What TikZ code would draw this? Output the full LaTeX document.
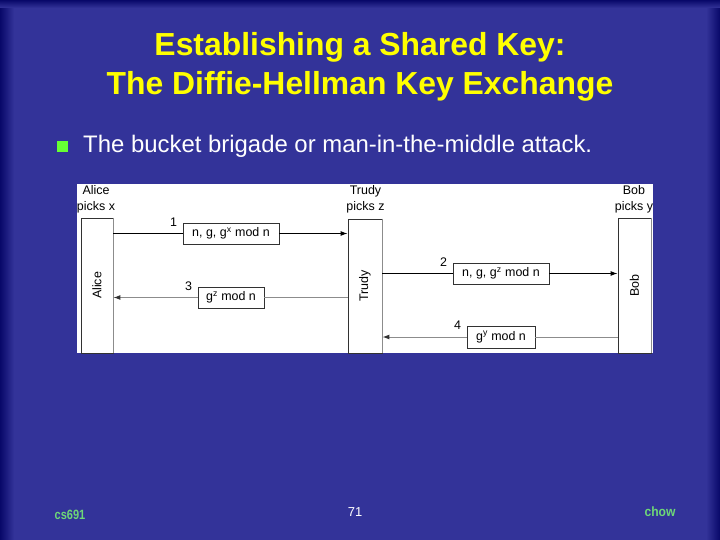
\documentclass[tikz,border=0pt]{standalone}
\usepackage{fontspec}
\setmainfont{Liberation Sans}
\usetikzlibrary{arrows.meta}
\definecolor{bgblue}{RGB}{51,51,153}
\definecolor{edgeblue}{RGB}{8,8,105}
\definecolor{titleyellow}{RGB}{255,255,0}
\definecolor{bulletgreen}{RGB}{102,255,51}
\definecolor{footgreen}{RGB}{110,215,120}
\definecolor{boxline}{RGB}{50,50,50}
\definecolor{softline}{RGB}{140,140,140}
\begin{document}
\begin{tikzpicture}[x=1bp,y=-1bp,
  title/.style={anchor=base, inner sep=0, text=titleyellow, font=\fontsize{32}{38}\selectfont\bfseries},
  bullettext/.style={anchor=base west, inner sep=0, text=white, font=\fontsize{24}{28}\selectfont},
  diag/.style={inner sep=0, font=\fontsize{12.5}{15.5}\selectfont, text=black},
  life/.style={draw=boxline, fill=white, line width=0.9bp, inner sep=0},
  msgbox/.style={draw=boxline, fill=white, line width=0.8bp, inner sep=0, minimum height=21bp, font=\fontsize{12.5}{15}\selectfont},
  num/.style={inner sep=0, font=\fontsize{12.5}{15}\selectfont},
  hardline/.style={draw=black, line width=1bp},
  softl/.style={draw=softline, line width=1bp},
  tip/.style={-{Latex[length=7bp,width=5bp]}},
  softtip/.style={-{Latex[length=7bp,width=5bp,color=black!80]}},
  foot/.style={inner sep=0, font=\fontsize{13.5}{15}\selectfont\bfseries, text=footgreen}
]
\useasboundingbox (0,0) rectangle (720,540);
% background
\fill[bgblue] (0,0) rectangle (720,540);
\shade[left color=edgeblue, right color=bgblue] (0,0) rectangle (14,540);
\shade[left color=bgblue, right color=edgeblue] (706,0) rectangle (720,540);
\shade[top color=edgeblue, bottom color=bgblue] (0,0) rectangle (720,8);

% title
\node[title] (t1) at (360,56) {Establishing a Shared Key:};
\node[title] (t2) at (360,95) {The Diffie-Hellman Key Exchange};

% bullet
\node[fill=bulletgreen, minimum size=11bp, inner sep=0] (bul) at (62.5,146.5) {};
\node[bullettext] (b1) at (83,152.5) {The bucket brigade or man-in-the-middle attack.};

% diagram panel
\fill[white] (77,184) rectangle (653,353);

% participants
\node[life, minimum width=32bp, minimum height=135bp] (alice) at (97,285.5) {};
\node[life, minimum width=34bp, minimum height=134bp] (trudy) at (365,286) {};
\node[life, minimum width=33bp, minimum height=135bp] (bob) at (634.5,285.5) {};
\draw[softline, line width=0.9bp] (alice.north east) -- (alice.south east);
\draw[softline, line width=0.9bp] (trudy.north east) -- (trudy.south east);
\draw[softline, line width=0.9bp] (bob.north east) -- (bob.south east);

\node[diag, rotate=90] (alicel) at (alice.center) {Alice};
\node[diag, rotate=90] (trudyl) at (trudy.center) {Trudy};
\node[diag, rotate=90] (bobl) at (bob.center) {Bob};

\node[diag, align=center] (alicep) at (96,199.5) {Alice\\picks x};
\node[diag, align=center] (trudyp) at (365.5,199.5) {Trudy\\picks z};
\node[diag, align=center] (bobp) at (634,199.5) {Bob\\picks y};

% messages
\node[msgbox, minimum width=96bp] (m1) at (231,233.5) {n, g, g\textsuperscript{x} mod n};
\node[msgbox, minimum width=66bp] (m3) at (231,297.5) {g\textsuperscript{z} mod n};
\node[msgbox, minimum width=96bp] (m2) at (501,273.5) {n, g, g\textsuperscript{z} mod n};
\node[msgbox, minimum width=68bp, minimum height=22bp] (m4) at (501,337) {g\textsuperscript{y} mod n};

\node[num] (n1) at ([xshift=-9bp]m1.north west) {1};
\node[num] (n3) at ([xshift=-9bp]m3.north west) {3};
\node[num] (n2) at ([xshift=-9bp]m2.north west) {2};
\node[num] (n4) at ([xshift=-9bp]m4.north west) {4};

% connectors
\draw[hardline] (alice.east |- m1.west) -- (m1.west);
\draw[hardline, tip] (m1.east) -- (trudy.west |- m1.east);
\draw[softl] (trudy.west |- m3.east) -- (m3.east);
\draw[softl, softtip] (m3.west) -- (alice.east |- m3.west);
\draw[hardline] (trudy.east |- m2.west) -- (m2.west);
\draw[hardline, tip] (m2.east) -- (bob.west |- m2.east);
\draw[softl] (bob.west |- m4.east) -- (m4.east);
\draw[softl, softtip] (m4.west) -- (trudy.east |- m4.west);

% footer
\node[foot] (f1) at (70,515) {\scalebox{0.82}[1]{cs691}};
\node[inner sep=0, text=white, font=\fontsize{13}{15}\selectfont] (f2) at (355,512) {71};
\node[foot] (f3) at (660,512) {\scalebox{0.9}[1]{chow}};
\end{tikzpicture}
\end{document}
